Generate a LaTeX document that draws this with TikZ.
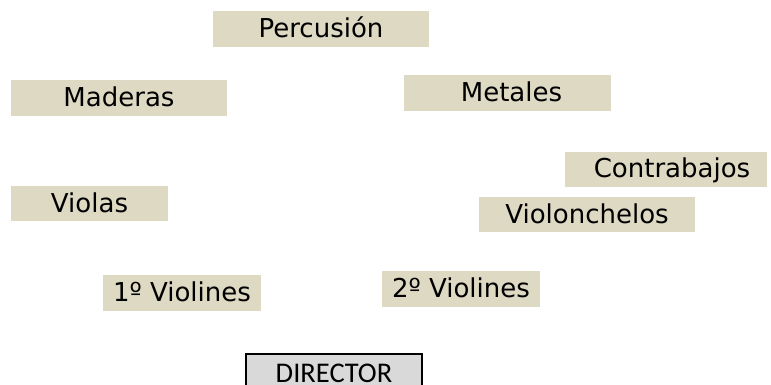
\documentclass[tikz,border=0pt]{standalone}
\usepackage{fontspec}
\setmainfont{DejaVu Sans}
\newfontfamily\dirfont{Carlito}
\definecolor{tanfill}{HTML}{DDD9C3}
\definecolor{dirfill}{HTML}{D9D9D9}
\begin{document}
\begin{tikzpicture}[x=1pt,y=-1pt,
  secbox/.style={fill=tanfill, draw=none, inner sep=0pt, text height=18pt, text depth=1pt,
     font=\fontsize{26}{30}\selectfont},
  dirbox/.style={fill=dirfill, draw=black, line width=2pt, inner xsep=0pt, inner ysep=10pt,
     text height=18pt, text depth=0pt, font=\dirfont\fontsize{28.5}{32}\selectfont}]
\useasboundingbox (0,0) rectangle (771,385);
\clip (0,0) rectangle (771,385);
\node[secbox, minimum width=216, minimum height=36] (perc) at (321,29) {Percusión};
\node[secbox, minimum width=216, minimum height=36] (mad) at (119,98) {Maderas};
\node[secbox, minimum width=207, minimum height=36] (met) at (507.5,93) {\hspace*{8pt}Metales};
\node[secbox, minimum width=202, minimum height=35] (cb) at (666,169.5) {\hspace*{12pt}Contrabajos};
\node[secbox, minimum width=216, minimum height=35] (vc) at (587,214.5) {Violonchelos};
\node[secbox, minimum width=157, minimum height=35] (vla) at (89.5,203.5) {Violas};
\node[secbox, minimum width=158, minimum height=36] (v1) at (182,293) {1º Violines};
\node[secbox, minimum width=158, minimum height=36] (v2) at (461,289) {2º Violines};
\node[dirbox, anchor=north, minimum width=176] (dir) at (334,353) {DIRECTOR};
\end{tikzpicture}
\end{document}
